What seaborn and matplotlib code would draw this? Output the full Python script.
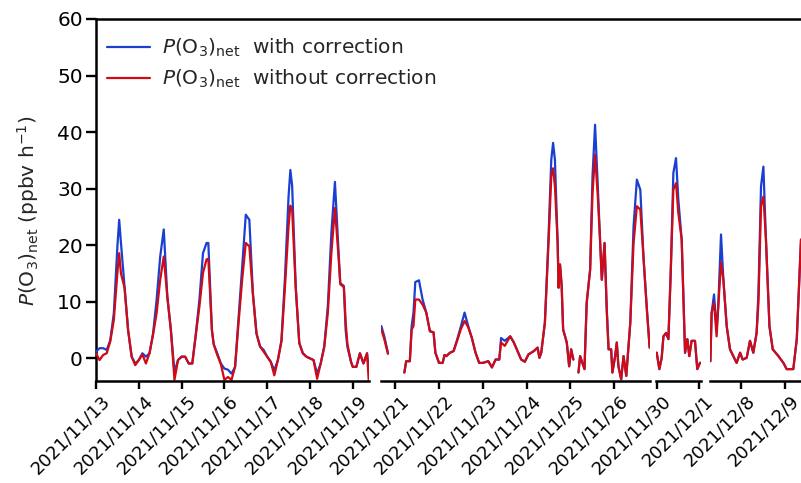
import numpy as np
import pandas as pd
import matplotlib
matplotlib.use("Agg")
import matplotlib.pyplot as plt
import matplotlib.transforms as mtransforms
import seaborn as sns

# ---------------- data (hours since 2021-11-13 00:00) ----------------
START = "2021-11-13"
LABEL_BLUE = r"$P(\mathrm{O}_3)_\mathrm{net}$  with correction"
LABEL_RED = r"$P(\mathrm{O}_3)_\mathrm{net}$  without correction"

# piece 1 : 11/13 - 11/19
t1 = [0, 2, 4, 6, 8, 10, 12, 13, 14, 16, 18, 20, 22,
      24, 26, 28, 30, 32, 34, 36, 38, 40, 42, 44, 46,
      48, 50, 52, 54, 56, 58, 60, 62, 63, 65, 66, 68, 70,
      72, 74, 76, 78, 80, 82, 84, 86, 88, 90, 92, 94,
      96, 98, 100, 102, 104, 106, 108, 109, 110, 112, 114, 116, 118,
      120, 122, 124, 126, 128, 130, 132, 134, 136, 137, 139, 140, 141, 143,
      144, 146, 148, 150, 152, 153]
blue1 = [1.2, 1.8, 1.8, 1.5, 3.2, 8.0, 19.8, 24.5, 20.4, 12.7, 5.0, 0.3, -0.9,
         -0.3, 0.9, 0.3, 0.9, 4.4, 10.4, 18.0, 22.8, 10.9, 5.0, -2.4, -0.3,
         0.3, 0.3, -0.9, -0.9, 4.4, 10.4, 18.6, 20.4, 20.4, 5.0, 2.5, 0.9, -0.9,
         -1.8, -2.0, -2.7, -1.5, 7.4, 16.3, 25.4, 24.5, 11.5, 4.4, 2.1, 1.5,
         0.3, -0.6, -2.1, -0.3, 3.2, 14.5, 28.7, 33.3, 30.5, 12.7, 2.7, 0.9, 0.3,
         0.0, -0.3, -2.7, -0.9, 2.1, 9.2, 22.2, 31.2, 19.0, 13.3, 12.8, 5.0, 2.0, -0.6,
         -1.5, -1.5, 0.9, -0.9, 0.9, -2.1]
red1 = [0.9, -0.3, 0.6, 0.9, 3.0, 6.8, 15.1, 18.6, 15.0, 12.5, 5.0, 0.3, -1.2,
        -0.3, 0.7, -0.9, 0.9, 4.2, 8.0, 13.9, 18.0, 10.9, 5.0, -3.8, -0.3,
        0.3, 0.3, -0.9, -0.9, 4.2, 9.2, 15.1, 17.5, 17.6, 5.0, 2.5, 0.6, -1.0,
        -3.8, -3.3, -3.8, -1.5, 6.5, 14.0, 20.4, 19.8, 11.3, 4.4, 2.1, 1.2,
        0.3, -0.6, -3.0, -0.3, 3.0, 12.7, 23.4, 27.0, 26.3, 12.5, 2.7, 0.9, 0.3,
        0.0, -0.3, -3.6, -0.9, 2.0, 8.0, 18.6, 26.6, 18.0, 13.1, 12.6, 6.5, 2.5, -0.6,
        -1.5, -1.5, 0.9, -0.9, 0.9, -4.2]

# piece 2a : 11/20 evening
t2a = [184.4, 186, 188]
blue2a = [5.7, 3.9, 1.0]
red2a = [5.1, 3.4, 0.8]

# piece 2b : 11/21 - 11/25
t2b = [197, 198, 200, 201, 202, 203, 205, 207, 209, 211,
       213, 214, 216, 218, 219, 220, 222, 224, 226, 228,
       230, 232, 234, 236, 238, 240, 243, 245, 247, 249,
       250, 252, 255, 257, 259, 261, 263, 265, 268, 270,
       271, 272, 274, 276, 277.5, 278.5, 279.5, 281, 281.5, 282.3,
       283.2, 284, 286, 287.3, 288.4, 289.6]
blue2b = [-2.5, -0.5, -0.5, 5.7, 8.1, 13.5, 13.8, 10.4, 8.1, 4.8,
          4.6, 1.0, -0.8, -0.8, 0.6, 0.4, 1.0, 1.3, 3.4, 5.7,
          8.1, 5.7, 3.6, 1.0, -0.8, -0.8, -0.5, -1.6, -0.2, -0.2,
          3.6, 3.1, 3.9, 2.8, 1.3, -0.2, -0.6, 0.7, 1.3, 1.9,
          0.1, 1.0, 6.3, 21.6, 35.1, 38.1, 35.1, 20.4, 12.5, 16.6,
          12.8, 5.1, 2.8, -1.4, 1.6, -0.2]
red2b = [-2.5, -0.5, -0.5, 5.1, 5.7, 10.4, 10.4, 9.5, 8.1, 4.8,
         4.6, 1.0, -0.8, -0.8, 0.6, 0.4, 1.0, 1.3, 3.2, 5.2,
         6.6, 5.5, 3.6, 1.0, -0.8, -0.8, -0.5, -1.6, -0.2, -0.2,
         2.8, 2.2, 3.9, 2.8, 1.3, -0.2, -0.6, 0.7, 1.3, 1.9,
         0.1, 1.0, 6.3, 20.4, 32.2, 33.6, 30.4, 20.4, 12.5, 16.6,
         12.8, 5.1, 2.8, -1.4, 1.6, -0.2]

# piece 2c : 11/25 - 11/26
t2c = [292.4, 293.3, 295.7, 296.9, 298.8, 300.1, 301.5, 303, 304.3, 305.2,
       306.7, 307.9, 308.9, 310.3, 311, 312.5, 313.4, 314.3, 315.8, 317.1,
       318.6, 320.8, 322.6, 324.4, 326.3, 328.1, 329.9, 331.4]
blue2c = [-2.5, 0.4, -1.9, 9.8, 15.7, 32.2, 41.3, 30.4, 20.4, 13.9,
          20.4, 8.6, 1.6, 1.6, -2.5, 0.4, 2.8, -1.4, -3.7, 0.4,
          -3.1, 6.3, 23.4, 31.6, 29.8, 17.5, 8.6, 1.9]
red2c = [-2.5, 0.4, -1.9, 9.8, 15.7, 29.2, 36.0, 28.6, 20.4, 13.9,
         20.4, 8.6, 1.6, 1.6, -2.5, 0.4, 2.8, -1.4, -3.7, 0.4,
         -3.1, 6.3, 20.4, 26.9, 26.3, 17.5, 8.6, 1.9]

# piece 3 : 11/30
t3 = [408, 409.5, 410.8, 411.8, 413.3, 414.6, 415.9, 417.4, 418.9, 420.2,
      422.1, 424, 425.3, 426.4, 427.7, 429.6, 430.9, 432.4, 433]
blue3 = [1.0, -1.9, 0.1, 3.9, 4.5, 3.4, 15.1, 32.8, 35.4, 28.1,
         21.0, 1.0, 3.4, 0.4, 3.1, 3.1, -1.9, -0.8, -0.8]
red3 = [1.0, -1.9, 0.1, 3.9, 4.5, 3.4, 15.1, 29.8, 31.0, 25.7,
        21.0, 1.0, 3.4, 0.4, 3.1, 3.1, -1.9, -0.8, -0.8]

# piece 4 : 12/7 - 12/9
t4 = [583.3, 584, 585.3, 586.7, 587.6, 589.1, 590.4, 592.2, 594, 595.8,
      597.6, 599.5, 600.9, 603.1, 604.9, 606.7, 608.5, 609.5, 610.9, 612.2,
      613.6, 615.5, 617.3, 620.4, 623.1, 624.9, 628.5, 630.4, 632.7]
blue4 = [-0.5, 8.1, 11.3, 5.0, 9.2, 21.9, 13.9, 5.7, 1.6, 0.4,
         -0.8, 1.0, -0.2, 0.1, 3.1, 1.0, 4.5, 11.6, 30.4, 33.9,
         21.0, 5.7, 1.6, 0.4, -0.8, -1.9, -1.9, 3.4, 21.0]
red4 = [-0.5, 8.1, 9.8, 3.9, 9.2, 16.9, 13.9, 5.7, 1.6, 0.4,
        -0.8, 1.0, -0.2, 0.1, 3.1, 1.0, 4.5, 9.8, 26.9, 28.6,
        21.0, 5.7, 1.6, 0.4, -0.8, -1.9, -1.9, 3.4, 21.0]

# tick labels for each axis segment
ticks_seg1 = ["2021/11/13", "2021/11/14", "2021/11/15", "2021/11/16",
              "2021/11/17", "2021/11/18", "2021/11/19"]
ticks_seg2 = ["2021/11/21", "2021/11/22", "2021/11/23", "2021/11/24",
              "2021/11/25", "2021/11/26"]
ticks_seg3 = ["2021/11/30", "2021/12/1"]
ticks_seg4 = ["2021/12/8", "2021/12/9"]

# ---------------- build long table ----------------
pieces = [(t1, blue1, red1), (t2a, blue2a, red2a), (t2b, blue2b, red2b),
          (t2c, blue2c, red2c), (t3, blue3, red3), (t4, blue4, red4)]
rows = []
for pid, (t, b, r) in enumerate(pieces):
    for ti, bi in zip(t, b):
        rows.append((ti, bi, LABEL_BLUE, pid))
    for ti, ri in zip(t, r):
        rows.append((ti, ri, LABEL_RED, pid))
df = pd.DataFrame(rows, columns=["hour", "value", "series", "piece"])


def tick_hours(labels):
    start = pd.Timestamp(START)
    return [(pd.Timestamp(s.replace("/", "-")) - start) / pd.Timedelta(hours=1)
            for s in labels]


# ---------------- style ----------------
sns.set_theme(style="ticks")
plt.rcParams["font.family"] = ["DejaVu Sans"]
plt.rcParams["mathtext.fontset"] = "dejavusans"

BLUE = "#1a3fd1"
RED = "#d10a14"
FS = 14.5
FS_X = 13

fig = plt.figure(figsize=(8.01, 4.83), dpi=100)
W, H = 801.0, 483.0
TOP, BOT = 19, 381


def rect(x0, x1):
    return [x0 / W, 1 - BOT / H, (x1 - x0) / W, (BOT - TOP) / H]


YLIM = (-4, 60)

# background axes: top + left spines, y ticks, label, legend
bg = fig.add_axes(rect(96, 801))
bg.set_ylim(*YLIM)
bg.set_xlim(0, 1)
bg.set_xticks([])
bg.set_yticks(np.arange(0, 61, 10))
for s in ["right", "bottom"]:
    bg.spines[s].set_visible(False)
for s in ["top", "left"]:
    bg.spines[s].set_linewidth(1.8)
    bg.spines[s].set_color("black")
bg.tick_params(axis="y", direction="out", length=7.5, width=1.7,
               labelsize=FS, pad=2, colors="black")
bg.set_ylabel(r"$P(\mathrm{O}_3)_\mathrm{net}$ (ppbv h$^{-1}$)", fontsize=FS)
bg.yaxis.set_label_coords(-0.078, 0.47)

segments = [
    ((96, 369), (0, 153.1), ticks_seg1),
    ((381, 650), (184.2, 331.6), ticks_seg2),
    ((656, 701), (407.6, 433.0), ticks_seg3),
    ((710, 801), (583.1, 632.7), ticks_seg4),
]

shift = mtransforms.ScaledTranslation(3.5 / 72, 0, fig.dpi_scale_trans)
axes = []
for i, ((x0, x1), xl, labels) in enumerate(segments):
    ax = fig.add_axes(rect(x0, x1))
    ax.patch.set_alpha(0)
    sub = df[(df["hour"] >= xl[0] - 1) & (df["hour"] <= xl[1] + 1)]
    sns.lineplot(data=sub, x="hour", y="value", hue="series", units="piece",
                 estimator=None, sort=False, hue_order=[LABEL_BLUE, LABEL_RED],
                 palette=[BLUE, RED], linewidth=1.6, legend=(i == 0), ax=ax)
    ax.set_xlim(*xl)
    ax.set_ylim(*YLIM)
    ax.set_yticks([])
    ax.set_xlabel("")
    ax.set_ylabel("")
    for s in ["top", "left", "right"]:
        ax.spines[s].set_visible(False)
    ax.spines["bottom"].set_linewidth(1.8)
    ax.spines["bottom"].set_color("black")
    ax.set_xticks(tick_hours(labels))
    ax.set_xticklabels(labels, rotation=45, ha="right", rotation_mode="anchor",
                       fontsize=FS_X)
    ax.tick_params(axis="x", direction="out", length=5.5, width=1.7, pad=2.5,
                   colors="black")
    for lab in ax.get_xticklabels():
        lab.set_transform(lab.get_transform() + shift)
    axes.append(ax)

sns.move_legend(axes[0], "upper left", bbox_to_anchor=(0.04, 0.95),
                frameon=False, title=None, fontsize=FS, handlelength=2.15,
                handletextpad=0.6, borderpad=0, borderaxespad=0,
                labelspacing=0.43)

fig.savefig("out.png", dpi=100)
